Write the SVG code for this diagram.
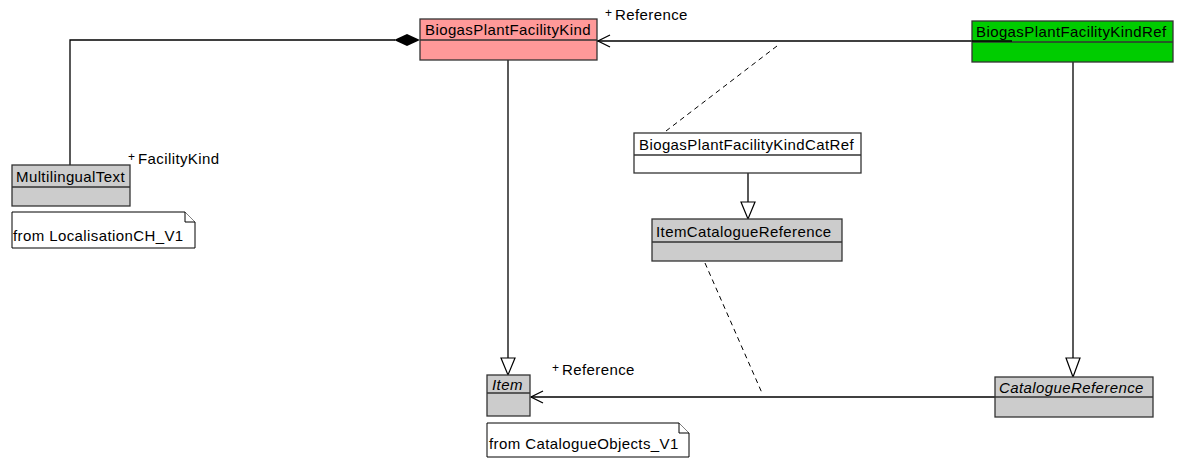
<svg xmlns="http://www.w3.org/2000/svg" width="1179" height="458" viewBox="0 0 1179 458">
<style>
text{font-family:"Liberation Sans",Arial,sans-serif;font-size:15px;letter-spacing:0.4px;fill:#000}
.box{stroke:#333;stroke-width:1.3}
.pink{fill:#ff9999}.green{fill:#00cc00}.gray{fill:#cccccc}.white{fill:#fff}
.ln{stroke:#000;stroke-width:1.3;fill:none}
.dash{stroke:#000;stroke-width:1;fill:none;stroke-dasharray:5,4}
.tri{fill:#fff;stroke:#000;stroke-width:1.2}
.plus{font-size:12px;letter-spacing:0}
.it{font-style:italic}
.note{fill:#fff;stroke:#000;stroke-width:1}
</style>
<g id="connectors">
  <path class="ln" d="M395,40 H70 V165"/>
  <polygon points="394,40 407,34 420,40 407,46" fill="#000"/>
  <path class="ln" d="M597,41 H1012"/>
  <path class="ln" d="M610,35 L598,41 L610,47"/>
  <path class="ln" d="M508,60 V358"/>
  <polygon class="tri" points="501,358 515,358 508,375"/>
  <path class="ln" d="M748,173 V202"/>
  <polygon class="tri" points="741,202 755,202 748,219"/>
  <path class="ln" d="M1073,62 V358"/>
  <polygon class="tri" points="1066,358 1080,358 1073,377"/>
  <path class="ln" d="M995,397 H531"/>
  <path class="ln" d="M543,391 L531,397 L543,403"/>
  <path class="dash" d="M777,46 L666,131"/>
  <path class="dash" d="M705,263 L762,393"/>
  <text x="605" y="17" class="plus">+</text><text x="615" y="20">Reference</text>
  <text x="128" y="161" class="plus">+</text><text x="138" y="164">FacilityKind</text>
  <text x="552" y="372" class="plus">+</text><text x="562" y="375">Reference</text>
</g>
<g id="BiogasPlantFacilityKind">
  <rect class="box pink" x="420" y="19" width="177" height="41"/>
  <line class="box" x1="420" y1="40" x2="597" y2="40"/>
  <text x="425" y="35">BiogasPlantFacilityKind</text>
</g>
<g id="BiogasPlantFacilityKindRef">
  <rect class="box green" x="972" y="21" width="201" height="41"/>
  <line class="box" x1="972" y1="42" x2="1173" y2="42"/>
  <text x="976" y="37">BiogasPlantFacilityKindRef</text>
  <line class="ln" x1="972" y1="41" x2="1012" y2="41"/>
</g>
<g id="MultilingualText">
  <rect class="box gray" x="12" y="165" width="118" height="41"/>
  <line class="box" x1="12" y1="187" x2="130" y2="187"/>
  <text x="16" y="182">MultilingualText</text>
</g>
<g id="note1">
  <path class="note" d="M12,212 H185 L195,222 V248 H12 Z"/>
  <path class="note" d="M185,212 V222 H195"/>
  <text x="13" y="241">from LocalisationCH_V1</text>
</g>
<g id="BiogasPlantFacilityKindCatRef">
  <rect class="box white" x="634" y="133" width="227" height="40"/>
  <line class="box" x1="634" y1="155" x2="861" y2="155"/>
  <text x="639" y="150">BiogasPlantFacilityKindCatRef</text>
</g>
<g id="ItemCatalogueReference">
  <rect class="box gray" x="652" y="219" width="190" height="42"/>
  <line class="box" x1="652" y1="242" x2="842" y2="242"/>
  <text x="656" y="237">ItemCatalogueReference</text>
</g>
<g id="Item">
  <rect class="box gray" x="487" y="375" width="43" height="41"/>
  <line class="box" x1="487" y1="393" x2="530" y2="393"/>
  <text x="492" y="390" class="it">Item</text>
</g>
<g id="note2">
  <path class="note" d="M487,423 H679 L689,433 V457 H487 Z"/>
  <path class="note" d="M679,423 V433 H689"/>
  <text x="489" y="449">from CatalogueObjects_V1</text>
</g>
<g id="CatalogueReference">
  <rect class="box gray" x="995" y="377" width="158" height="40"/>
  <line class="box" x1="995" y1="397" x2="1153" y2="397"/>
  <text x="999" y="393" class="it">CatalogueReference</text>
</g>
</svg>
